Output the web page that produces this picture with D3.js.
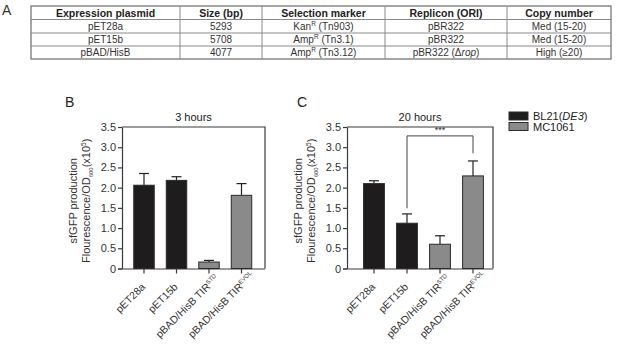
<!DOCTYPE html>
<html>
<head>
<meta charset="utf-8">
<script src="https://cdn.jsdelivr.net/npm/d3@7"></script>
<style>
  html, body { margin: 0; padding: 0; background: #fff; }
  svg { display: block; font-family: "Liberation Sans", Arial, sans-serif; }
</style>
</head>
<body>
<div id="fig"></div>
<script>
// ---- data ----
const tableHeader = ['Expression plasmid', 'Size (bp)', 'Selection marker', 'Replicon (ORI)', 'Copy number'];
const tablePlasmids = ['pET28a', 'pET15b', 'pBAD/HisB'];
const tableSizes = ['5293', '5708', '4077'];
const tableMarkers = [['Kan', 'R', ' (Tn903)'], ['Amp', 'R', ' (Tn3.1)'], ['Amp', 'R', ' (Tn3.12)']];
const tableReplicons = ['pBR322', 'pBR322', 'pBR322 (Δrop)'];
const tableCopies = ['Med (15-20)', 'Med (15-20)', 'High (≥20)'];

const barLabels = [['pET28a', ''], ['pET15b', ''], ['pBAD/HisB TIR', 'STD'], ['pBAD/HisB TIR', 'EVOL']];
const barStrain = ['BL21(DE3)', 'BL21(DE3)', 'MC1061', 'MC1061'];
const yTicks = [0, 0.5, 1, 1.5, 2, 2.5, 3, 3.5];

const hours3Mean = [2.06, 2.18, 0.16, 1.81];
const hours3Err  = [0.29, 0.09, 0.04, 0.29];
const hours20Mean = [2.10, 1.12, 0.60, 2.29];
const hours20Err  = [0.07, 0.23, 0.21, 0.37];

// significance bracket in panel C: from bar 1 to bar 3
const sigPair = [1, 3];
const sigLevels = [1.49, 3.28, 2.85];  // left end, top, right end
const sigText = '***';

const W = 621, H = 352;
const svg = d3.select('#fig').append('svg')
  .attr('width', W).attr('height', H);

const color = d3.scaleOrdinal()
  .domain(['BL21(DE3)', 'MC1061'])
  .range(['#1e1c1d', '#8a8a8a']);

// ---- panel A: table ----
const colEdges = [31, 180, 262, 385, 507, 611];
const rowEdges = [6, 19.5, 33, 46, 59];
const tbl = svg.append('g');

tbl.append('rect')
  .attr('x', colEdges[0]).attr('y', rowEdges[0])
  .attr('width', colEdges[5] - colEdges[0]).attr('height', rowEdges[4] - rowEdges[0])
  .attr('fill', 'none').attr('stroke', '#6b6b6b').attr('stroke-width', 1.2);
rowEdges.slice(1, -1).forEach(y => {
  tbl.append('line').attr('x1', colEdges[0]).attr('x2', colEdges[5])
    .attr('y1', y).attr('y2', y).attr('stroke', '#8a8a8a').attr('stroke-width', 1);
});
colEdges.slice(1, -1).forEach(x => {
  tbl.append('line').attr('x1', x).attr('x2', x)
    .attr('y1', rowEdges[0]).attr('y2', rowEdges[4]).attr('stroke', '#8a8a8a').attr('stroke-width', 1);
});

const colMid = i => (colEdges[i] + colEdges[i + 1]) / 2;
tableHeader.forEach((h, i) => {
  tbl.append('text').attr('x', colMid(i)).attr('y', rowEdges[1] - 3)
    .attr('text-anchor', 'middle').style('font-size', '10.5px').style('font-weight', 'bold')
    .attr('fill', '#222').text(h);
});
const cellText = (i, r) => tbl.append('text')
  .attr('x', colMid(i)).attr('y', rowEdges[r + 2] - 3)
  .attr('text-anchor', 'middle').style('font-size', '10px').attr('fill', '#333');

tablePlasmids.forEach((p, r) => {
  cellText(0, r).text(p);
  cellText(1, r).text(tableSizes[r]);
  const m = cellText(2, r);
  m.append('tspan').text(tableMarkers[r][0]);
  m.append('tspan').attr('dy', -4).style('font-size', '6.5px').text(tableMarkers[r][1]);
  m.append('tspan').attr('dy', 4).text(tableMarkers[r][2]);
  const rep = tableReplicons[r];
  const t = cellText(3, r);
  if (rep.includes('Δ')) {
    t.append('tspan').text('pBR322 (Δ');
    t.append('tspan').style('font-style', 'italic').text('rop');
    t.append('tspan').text(')');
  } else {
    t.text(rep);
  }
  cellText(4, r).text(tableCopies[r]);
});

svg.append('text').attr('x', 2).attr('y', 15)
  .style('font-size', '14px').style('font-weight', '300').attr('fill', '#333').text('A');

// ---- panels B and C ----
const y = d3.scaleLinear().domain([0, 3.5]).range([268.5, 127]);

function drawPanel(opt) {
  const g = svg.append('g');
  const x = d3.scaleBand()
    .domain(barLabels.map((d, i) => i))
    .range(opt.band)
    .paddingInner(0.37).paddingOuter(0.185);

  // panel letter and title
  svg.append('text').attr('x', opt.letterX).attr('y', 107)
    .style('font-size', '14px').attr('fill', '#222').text(opt.letter);
  g.append('text').attr('x', (opt.left + opt.right) / 2).attr('y', 121)
    .attr('text-anchor', 'middle').style('font-size', '11px').attr('fill', '#222').text(opt.title);

  // box top + right
  g.append('path')
    .attr('d', `M${opt.left},${y(3.5)}H${opt.right}V${y(0)}`)
    .attr('fill', 'none').attr('stroke', '#3a3a3a').attr('stroke-width', 1.2);

  // y axis
  const ya = g.append('g').attr('transform', `translate(${opt.left},0)`)
    .call(d3.axisLeft(y).tickValues(yTicks).tickSize(4).tickSizeOuter(0)
      .tickFormat(d => d === 0 ? '0' : d3.format('.1f')(d)));
  ya.select('.domain').attr('stroke', '#3a3a3a').attr('stroke-width', 1.2);
  ya.selectAll('.tick line').attr('stroke', '#3a3a3a').attr('stroke-width', 1.2);
  ya.selectAll('.tick text').attr('x', -6).style('font-size', '11px')
    .style('font-family', '"Liberation Sans", Arial, sans-serif').attr('fill', '#333');

  // x axis
  const xa = g.append('g').attr('transform', `translate(0,${y(0)})`)
    .call(d3.axisBottom(x).tickSize(5).tickSizeOuter(0).tickFormat(''));
  xa.select('.domain').attr('d', `M${opt.left - 4},0.5H${opt.right}`)
    .attr('stroke', '#3a3a3a').attr('stroke-width', 1.2);
  xa.selectAll('.tick line').attr('stroke', '#3a3a3a').attr('stroke-width', 1.2);

  // x labels rotated; superscript hangs past the tick
  barLabels.forEach((lab, i) => {
    const cx = x(i) + x.bandwidth() / 2;
    const t = g.append('text')
      .attr('text-anchor', 'end').style('font-size', '10.5px').attr('fill', '#333');
    t.append('tspan').text(lab[0]);
    let sw = 0;
    if (lab[1]) {
      const sup = t.append('tspan').attr('dy', -4).style('font-size', '6px').text(lab[1]);
      sw = sup.node().getComputedTextLength();
    }
    const k = Math.SQRT1_2;
    t.attr('transform', `translate(${cx + 2 + sw * k},${y(0) + 19 - sw * k}) rotate(-45)`);
  });

  // y label
  const ly = (y(0) + y(3.5)) / 2 + 3;
  g.append('text')
    .attr('transform', `translate(${opt.left - 45},${ly}) rotate(-90)`)
    .attr('text-anchor', 'middle').style('font-size', '11px').attr('fill', '#333')
    .text('sfGFP production');
  const l2 = g.append('text')
    .attr('transform', `translate(${opt.left - 32},${ly}) rotate(-90)`)
    .attr('text-anchor', 'middle').style('font-size', '11px').attr('fill', '#333');
  l2.append('tspan').text('Flourescence/OD');
  l2.append('tspan').attr('dy', 2.5).style('font-size', '6px').text('600');
  l2.append('tspan').attr('dy', -2.5).text('(x10');
  l2.append('tspan').attr('dy', -4).style('font-size', '6.5px').text('5');
  l2.append('tspan').attr('dy', 4).text(')');

  // error bars (upper only)
  opt.mean.forEach((m, i) => {
    const cx = x(i) + x.bandwidth() / 2;
    g.append('line').attr('x1', cx).attr('x2', cx)
      .attr('y1', y(m)).attr('y2', y(m + opt.err[i]))
      .attr('stroke', '#222').attr('stroke-width', 1.2);
    g.append('line').attr('x1', cx - 5).attr('x2', cx + 5)
      .attr('y1', y(m + opt.err[i])).attr('y2', y(m + opt.err[i]))
      .attr('stroke', '#222').attr('stroke-width', 1.2);
  });

  // bars
  g.selectAll('rect.bar').data(opt.mean).enter().append('rect')
    .attr('class', 'bar')
    .attr('x', (d, i) => x(i))
    .attr('y', d => y(d))
    .attr('width', x.bandwidth())
    .attr('height', d => y(0) - y(d))
    .attr('fill', (d, i) => color(barStrain[i]))
    .attr('stroke', '#2a2a2a').attr('stroke-width', 1);

  return x;
}

drawPanel({ letter: 'B', letterX: 65, title: '3 hours', left: 122, right: 265,
  band: [127.75, 257.75], mean: hours3Mean, err: hours3Err });
const xC = drawPanel({ letter: 'C', letterX: 297, title: '20 hours', left: 347, right: 493,
  band: [357.5, 489.5], mean: hours20Mean, err: hours20Err });

// significance bracket
const bx0 = xC(sigPair[0]) + xC.bandwidth() / 2;
const bx1 = xC(sigPair[1]) + xC.bandwidth() / 2;
svg.append('path')
  .attr('d', `M${bx0},${y(sigLevels[0])}V${y(sigLevels[1])}H${bx1}V${y(sigLevels[2])}`)
  .attr('fill', 'none').attr('stroke', '#444').attr('stroke-width', 1);
svg.append('text').attr('x', (bx0 + bx1) / 2).attr('y', y(sigLevels[1]) - 3)
  .attr('text-anchor', 'middle').style('font-size', '9px').attr('fill', '#333').text(sigText);

// legend
const legend = svg.append('g').attr('transform', 'translate(509,112)');
color.domain().forEach((s, i) => {
  const it = legend.append('g').attr('transform', `translate(0,${i * 10.5})`);
  it.append('rect').attr('width', 19).attr('height', 8)
    .attr('fill', color(s)).attr('stroke', '#2a2a2a').attr('stroke-width', 1);
  const t = it.append('text').attr('x', 24).attr('y', 8).style('font-size', '11px').attr('fill', '#222');
  if (s.includes('(')) {
    t.append('tspan').text('BL21(');
    t.append('tspan').style('font-style', 'italic').text('DE3');
    t.append('tspan').text(')');
  } else {
    t.text(s);
  }
});
</script>
</body>
</html>
